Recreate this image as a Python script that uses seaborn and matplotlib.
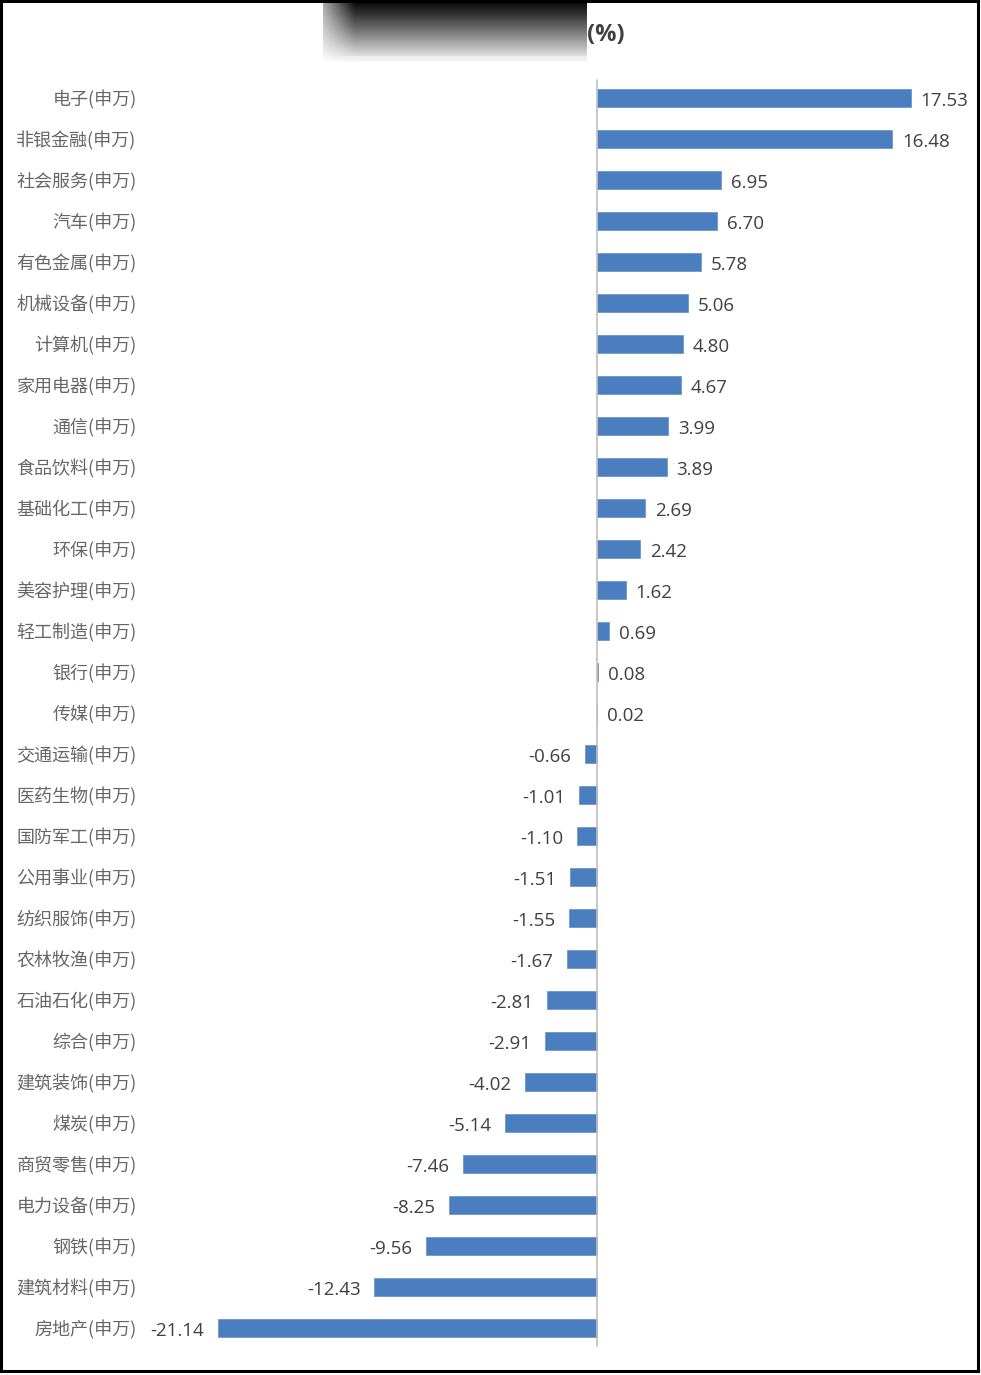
import numpy as np
import pandas as pd
import matplotlib
matplotlib.use("Agg")
import matplotlib.pyplot as plt
import seaborn as sns
from matplotlib.patches import Rectangle

industries = ["电子", "非银金融", "社会服务", "汽车", "有色金属", "机械设备", "计算机", "家用电器",
              "通信", "食品饮料", "基础化工", "环保", "美容护理", "轻工制造", "银行", "传媒",
              "交通运输", "医药生物", "国防军工", "公用事业", "纺织服饰", "农林牧渔", "石油石化",
              "综合", "建筑装饰", "煤炭", "商贸零售", "电力设备", "钢铁", "建筑材料", "房地产"]
changes = [17.53, 16.48, 6.95, 6.70, 5.78, 5.06, 4.80, 4.67, 3.99, 3.89, 2.69, 2.42, 1.62,
           0.69, 0.08, 0.02, -0.66, -1.01, -1.10, -1.51, -1.55, -1.67, -2.81, -2.91, -4.02,
           -5.14, -7.46, -8.25, -9.56, -12.43, -21.14]
labels = [f"{n}(申万)" for n in industries]
title_text = "(%)"

sns.set_theme(style="white")
plt.rcParams['font.family'] = ['Noto Sans CJK SC', 'DejaVu Sans']

W, H = 981, 1375
fig = plt.figure(figsize=(W / 100, H / 100), dpi=100)
fig.patch.set_facecolor("white")

def fx(px):
    return px / W

def fy(py):
    return 1 - py / H

zero_px = 597
ppu = (911 - 597) / 17.53
ax_left_px, ax_right_px = 145, 978
ax_top_px, ax_bot_px = 77.5, 1348.5
ax = fig.add_axes([fx(ax_left_px), fy(ax_bot_px), fx(ax_right_px - ax_left_px),
                   (ax_bot_px - ax_top_px) / H])

df = pd.DataFrame({"label": labels, "value": changes})
sns.barplot(data=df, x="value", y="label", orient="h", color="#4A7EBF",
            width=0.42, saturation=1, edgecolor="#6C98CC", linewidth=0.6, ax=ax)

ax.set_xlim((ax_left_px - zero_px) / ppu, (ax_right_px - zero_px) / ppu)
ax.set_ylim(len(labels) - 0.5, -0.5)
ax.axvline(0, color="#BFBFBF", lw=1.2, ymin=0.002, ymax=0.998)
for s in ax.spines.values():
    s.set_visible(False)
ax.set_xticks([])
ax.set_xlabel("")
ax.set_ylabel("")
ax.tick_params(axis="y", length=0, pad=6, labelsize=13, labelcolor="#666666")

for i, v in enumerate(changes):
    if v >= 0:
        ax.annotate(f"{v:.2f}", (v, i), xytext=(7, -2), textcoords="offset points",
                    ha="left", va="center", fontsize=13.5, color="#404040",
                    family=["Open Sans", "DejaVu Sans"])
    else:
        ax.annotate(f"{v:.2f}", (v, i), xytext=(-10, -2), textcoords="offset points",
                    ha="right", va="center", fontsize=13.5, color="#404040",
                    family=["Open Sans", "DejaVu Sans"])

# redacted title block (gradient) and unit
gax = fig.add_axes([fx(323), fy(62), fx(587 - 323), 62 / H])
rows = np.linspace(0, 1, 62)[:, None]
cols = np.linspace(0, 1, 264)[None, :]
grad = 0.02 + 0.95 * rows ** 1.1
fade = np.clip(cols / 0.12, 0, 1)
img = 1 - (1 - grad) * (0.35 + 0.65 * fade)
img[-6:, :] = np.maximum(img[-6:, :], 0.93)
gax.imshow(img, cmap="gray", vmin=0, vmax=1, aspect="auto", interpolation="bilinear")
gax.axis("off")
fig.text(fx(587), fy(35), title_text, ha="left", va="center", fontsize=17,
         fontweight="bold", color="#404040", family=["Open Sans", "DejaVu Sans"])

# figure border
fig.add_artist(Rectangle((fx(1), fy(1371)), fx(977), (1370) / H, transform=fig.transFigure,
                         fill=False, edgecolor="black", lw=2.2))

fig.savefig("out.png", dpi=100, facecolor="white")
